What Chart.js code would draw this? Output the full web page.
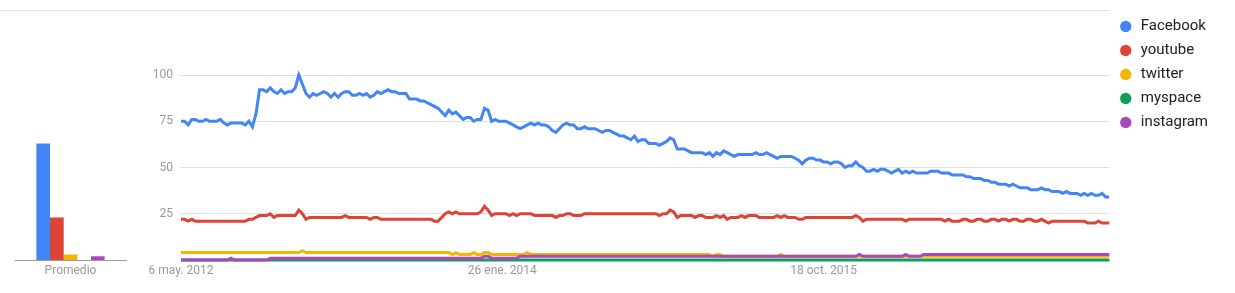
<!DOCTYPE html>
<html>
<head>
<meta charset="utf-8">
<script src="https://cdn.jsdelivr.net/npm/chart.js"></script>
<style>
  html, body { margin: 0; padding: 0; background: #fff; }
  #wrap { position: relative; width: 1235px; height: 293px; }
  #topline { position: absolute; left: 0; top: 10px; width: 1110px; height: 1px; background: #e0e0e0; }
  canvas { position: absolute; left: 0; top: 0; }
</style>
</head>
<body>
<div id="wrap">
  <div id="topline"></div>
  <canvas id="mainChart" width="1235" height="293"></canvas>
  <canvas id="avgChart" width="140" height="293"></canvas>
</div>
<script>
// weekly interest, 6 may 2012 .. apr 2017
var facebook = [
  75,75,73,76,76,75,75,76,75,75,75,76,74,73,74,74,74,74,73,75,
  72,79,92,92,91,93,91,90,92,90,91,91,93,100,95,90,88,90,89,90,
  91,90,88,90,88,90,91,91,89,89,90,89,90,88,89,91,90,91,92,91,
  91,90,90,90,87,87,87,86,86,85,84,83,82,80,78,81,79,80,78,76,
  77,77,75,76,76,82,81,75,76,75,75,75,74,73,72,71,72,73,74,73,
  74,73,73,72,70,69,71,73,74,73,73,71,71,72,71,71,71,70,69,70,
  70,69,68,67,67,66,65,67,64,65,65,63,63,63,62,63,64,66,65,60,
  60,60,59,58,58,58,58,57,58,56,58,57,59,58,57,56,57,57,57,57,
  57,58,57,57,58,57,56,55,56,56,56,56,55,54,52,54,55,55,54,54,
  53,53,52,53,53,52,50,51,51,53,51,50,48,48,49,48,49,49,48,47,
  48,49,47,48,47,48,47,47,47,47,48,48,48,47,47,47,46,46,46,46,
  45,45,44,44,44,43,43,42,42,41,41,41,40,41,40,39,39,39,38,38,
  38,39,38,38,37,37,37,36,37,36,36,36,35,36,35,36,35,35,36,34,34
];
var youtube = [
  22,22,21,22,21,21,21,21,21,21,21,21,21,21,21,21,21,21,21,22,
  22,23,24,24,24,25,23,24,24,24,24,24,24,27,25,22,23,23,23,23,
  23,23,23,23,23,23,24,23,23,23,23,23,23,22,23,23,22,22,22,22,
  22,22,22,22,22,22,22,22,22,22,22,21,21,23,25,26,25,26,25,25,
  25,25,25,25,26,29,27,24,25,25,25,25,24,25,24,25,25,25,25,24,
  24,24,24,24,24,23,24,24,25,25,24,24,24,25,25,25,25,25,25,25,
  25,25,25,25,25,25,25,25,25,25,25,25,25,25,24,25,25,27,26,23,
  24,24,24,24,23,24,24,23,23,23,24,23,24,22,23,23,23,24,23,24,
  24,24,23,23,23,23,23,24,23,24,23,23,23,22,22,23,23,23,23,23,
  23,23,23,23,23,23,23,23,23,24,23,21,22,22,22,22,22,22,22,22,
  22,22,22,21,22,22,22,22,22,22,22,22,22,22,21,22,21,21,21,22,
  22,21,21,22,22,21,21,22,22,21,22,22,21,22,22,21,21,22,22,21,
  21,22,21,20,21,21,21,21,21,21,21,21,21,21,20,20,20,21,20,20,20
];
var twitter = [
  4,4,4,4,4,4,4,4,4,4,4,4,4,4,4,4,4,4,4,4,
  4,4,4,4,4,4,4,4,4,4,4,4,4,4,5,4,4,4,4,4,
  4,4,4,4,4,4,4,4,4,4,4,4,4,4,4,4,4,4,4,4,
  4,4,4,4,4,4,4,4,4,4,4,4,4,4,4,4,3,4,3,3,
  3,3,4,3,3,4,4,3,3,3,3,3,3,3,3,3,3,4,3,3,
  3,3,3,3,3,3,3,3,3,3,3,3,3,3,3,3,3,3,3,3,
  3,3,3,3,3,3,3,3,3,3,3,3,3,3,3,3,3,3,3,3,
  3,3,3,3,3,3,3,3,3,2,3,3,2,2,2,2,2,2,2,2,
  2,2,2,2,2,2,2,2,3,2,2,2,2,2,2,2,2,2,2,2,
  2,2,2,2,2,2,2,2,2,2,2,2,2,2,2,2,2,2,2,2,
  2,2,2,2,2,2,2,2,2,2,2,2,2,2,2,2,2,2,2,2,
  2,2,2,2,2,2,2,2,2,2,2,2,2,2,2,2,2,2,2,2,
  2,2,2,2,2,2,2,2,2,2,2,2,2,2,2,2,2,2,2,2,2
];
var myspace = [
  0,0,0,0,0,0,0,0,0,0,0,0,0,0,0,0,0,0,0,0,
  0,0,0,0,0,0,0,0,0,0,0,0,0,0,0,0,0,0,0,0,
  0,0,0,0,0,0,0,0,0,0,0,0,0,0,0,0,0,0,0,0,
  0,0,0,0,0,0,0,0,0,0,0,0,0,0,0,0,0,0,0,0,
  0,0,0,0,0,0,0,0,0,0,0,0,0,0,0,0,0,0,0,0,
  0,0,0,0,0,0,0,0,0,0,0,0,0,0,0,0,0,0,0,0,
  0,0,0,0,0,0,0,0,0,0,0,0,0,0,0,0,0,0,0,0,
  0,0,0,0,0,0,0,0,0,0,0,0,0,0,0,0,0,0,0,0,
  0,0,0,0,0,0,0,0,0,0,0,0,0,0,0,0,0,0,0,0,
  0,0,0,0,0,0,0,0,0,0,0,0,0,0,0,0,0,0,0,0,
  0,0,0,0,0,0,0,0,0,0,0,0,0,0,0,0,0,0,0,0,
  0,0,0,0,0,0,0,0,0,0,0,0,0,0,0,0,0,0,0,0,
  0,0,0,0,0,0,0,0,0,0,0,0,0,0,0,0,0,0,0,0,0
];
var instagram = [
  0,0,0,0,0,0,0,0,0,0,0,0,0,0,1,0,0,0,0,0,
  0,0,0,0,0,1,1,1,1,1,1,1,1,1,1,1,1,1,1,1,
  1,1,1,1,1,1,1,1,1,1,1,1,1,1,1,1,1,1,1,1,
  1,1,1,1,1,1,1,1,1,1,1,1,1,1,1,1,1,1,1,1,
  1,1,1,1,1,2,2,1,1,1,1,1,1,1,1,2,2,2,2,2,
  2,2,2,2,2,2,2,2,2,2,2,2,2,2,2,2,2,2,2,2,
  2,2,2,2,2,2,2,2,2,2,2,2,2,2,2,2,2,2,2,2,
  2,2,2,2,2,2,2,2,2,2,2,2,2,2,2,2,2,2,2,2,
  2,2,2,2,2,2,2,2,2,2,2,2,2,2,2,2,2,2,2,2,
  2,2,2,2,2,2,2,2,2,2,3,2,2,2,2,2,2,2,2,2,
  2,2,2,3,2,2,2,2,3,3,3,3,3,3,3,3,3,3,3,3,
  3,3,3,3,3,3,3,3,3,3,3,3,3,3,3,3,3,3,3,3,
  3,3,3,3,3,3,3,3,3,3,3,3,3,3,3,3,3,3,3,3,3
];

// averages (left bars)
var avgLabels = ["Promedio"];
var averages = [63, 23, 3, 0, 2];

var names = ["Facebook", "youtube", "twitter", "myspace", "instagram"];
var colors = ["#4285f4", "#db4437", "#f4b400", "#0f9d58", "#ab47bc"];
var drawOrder = [0, 1, 3, 4, 2]; // instagram above twitter/myspace like the original

var yTicks = [0, 25, 50, 75, 100];
var tickDates = ["2012-05-06", "2014-01-26", "2015-10-18"];
var tickTexts = ["6 may. 2012", "26 ene. 2014", "18 oct. 2015"];

var weeks = [];
var start = Date.UTC(2012, 4, 6);
for (var i = 0; i < facebook.length; i++) {
  weeks.push(new Date(start + i * 7 * 86400000).toISOString().slice(0, 10));
}

Chart.defaults.font.family = "Roboto";
Chart.defaults.animation = false;

var series = [facebook, youtube, twitter, myspace, instagram];
var TOP = 10;
var YMAX = (260 - TOP) / 1.85;

var lineSets = series.map(function(vals, k) {
  return {
    label: names[k],
    data: vals,
    borderColor: colors[k],
    backgroundColor: colors[k],
    borderWidth: 3,
    pointRadius: 0,
    tension: 0,
    clip: false,
    order: drawOrder[k]
  };
});

new Chart(document.getElementById("mainChart"), {
  type: "line",
  data: { labels: weeks, datasets: lineSets },
  options: {
    responsive: false,
    layout: { padding: { left: 140, top: TOP, right: 17, bottom: 0 } },
    interaction: { mode: null },
    plugins: {
      tooltip: { enabled: false },
      legend: {
        position: "right",
        align: "start",
        labels: {
          usePointStyle: true,
          pointStyle: "circle",
          boxWidth: 15,
          boxHeight: 8,
          padding: 9,
          color: "#212121",
          font: { size: 15 },
          sort: function(a, b) { return a.datasetIndex - b.datasetIndex; },
          generateLabels: function(chart) {
            var items = Chart.defaults.plugins.legend.labels.generateLabels(chart);
            items.forEach(function(it) { it.lineWidth = 0; it.fillStyle = it.strokeStyle; });
            return items;
          }
        }
      }
    },
    scales: {
      x: {
        grid: { display: false, drawTicks: false },
        border: { display: true, color: "#9e9e9e" },
        ticks: {
          autoSkip: false,
          maxRotation: 0,
          minRotation: 0,
          padding: 4,
          color: "#999",
          font: { size: 12 },
          callback: function(v, idx) {
            var j = tickDates.indexOf(weeks[idx]);
            return j >= 0 ? tickTexts[j] : "";
          }
        },
        afterFit: function(scale) { scale.height = 33; }
      },
      y: {
        min: 0,
        max: YMAX,
        afterBuildTicks: function(scale) {
          scale.ticks = yTicks.map(function(v) { return { value: v }; });
        },
        grid: {
          drawTicks: false,
          color: function(ctx) { return ctx.tick && ctx.tick.value === 0 ? "rgba(0,0,0,0)" : "#e0e0e0"; }
        },
        border: { display: false },
        ticks: {
          padding: 8,
          color: "#999",
          font: { size: 12 },
          callback: function(v) { return v === 0 ? "" : v; }
        },
        afterFit: function(scale) {
          scale.width = 41;
          scale.paddingTop = 0;
          scale.paddingBottom = 0;
        }
      }
    }
  }
});

var barSets = averages.map(function(v, k) {
  return {
    label: names[k],
    data: [v],
    backgroundColor: colors[k],
    borderWidth: 0,
    barPercentage: 1,
    categoryPercentage: 0.615
  };
});

new Chart(document.getElementById("avgChart"), {
  type: "bar",
  data: { labels: avgLabels, datasets: barSets },
  options: {
    responsive: false,
    layout: { padding: { left: 15, right: 14, top: TOP, bottom: 0 } },
    plugins: { legend: { display: false }, tooltip: { enabled: false } },
    scales: {
      x: {
        grid: { display: false, drawTicks: false },
        border: { display: true, color: "#9e9e9e" },
        ticks: { padding: 4, color: "#999", font: { size: 12 } },
        afterFit: function(scale) { scale.height = 33; }
      },
      y: { display: false, min: 0, max: YMAX }
    }
  }
});
</script>
</body>
</html>
